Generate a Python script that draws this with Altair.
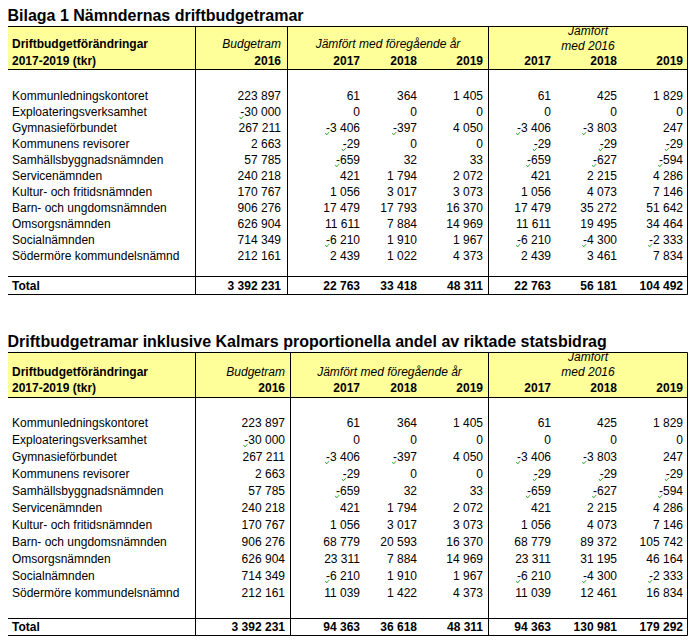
import altair as alt
import pandas as pd

# ---------------- data ----------------
categories = ["Kommunledningskontoret", "Exploateringsverksamhet", "Gymnasieförbundet",
              "Kommunens revisorer", "Samhällsbyggnadsnämnden", "Servicenämnden",
              "Kultur- och fritidsnämnden", "Barn- och ungdomsnämnden", "Omsorgsnämnden",
              "Socialnämnden", "Södermöre kommundelsnämnd"]
budget_2016 = [223897, -30000, 267211, 2663, 57785, 240218, 170767, 906276, 626904, 714349, 212161]
budget_2016_total = 3392231
year_labels = ["2017", "2018", "2019", "2017", "2018", "2019"]

# Table 1
t1_prev_2017 = [61, 0, -3406, -29, -659, 421, 1056, 17479, 11611, -6210, 2439]
t1_prev_2018 = [364, 0, -397, 0, 32, 1794, 3017, 17793, 7884, 1910, 1022]
t1_prev_2019 = [1405, 0, 4050, 0, 33, 2072, 3073, 16370, 14969, 1967, 4373]
t1_vs16_2017 = [61, 0, -3406, -29, -659, 421, 1056, 17479, 11611, -6210, 2439]
t1_vs16_2018 = [425, 0, -3803, -29, -627, 2215, 4073, 35272, 19495, -4300, 3461]
t1_vs16_2019 = [1829, 0, 247, -29, -594, 4286, 7146, 51642, 34464, -2333, 7834]
t1_totals = [22763, 33418, 48311, 22763, 56181, 104492]

# Table 2
t2_prev_2017 = [61, 0, -3406, -29, -659, 421, 1056, 68779, 23311, -6210, 11039]
t2_prev_2018 = [364, 0, -397, 0, 32, 1794, 3017, 20593, 7884, 1910, 1422]
t2_prev_2019 = [1405, 0, 4050, 0, 33, 2072, 3073, 16370, 14969, 1967, 4373]
t2_vs16_2017 = [61, 0, -3406, -29, -659, 421, 1056, 68779, 23311, -6210, 11039]
t2_vs16_2018 = [425, 0, -3803, -29, -627, 2215, 4073, 89372, 31195, -4300, 12461]
t2_vs16_2019 = [1829, 0, 247, -29, -594, 4286, 7146, 105742, 46164, -2333, 16834]
t2_totals = [94363, 36618, 48311, 94363, 130981, 179292]

title1 = "Bilaga 1 Nämndernas driftbudgetramar"
title2 = "Driftbudgetramar inklusive Kalmars proportionella andel av riktade statsbidrag"

# ---------------- layout ----------------
LEFT, RIGHT = 7.5, 687.5
LABEL_X = 12
VALUE_RIGHT = [360, 417, 483, 551, 617, 683]
FONT = "Liberation Sans"

tables = [
    dict(title=title1, title_base=21, top=26.5, hdr=69.5, jam=(31, 45.5), lines=(44, 61),
         row0=95.5, pitch=16, tsep=276.5, trow=286, bottom=294.5,
         vcols=[195.5, 287.5, 488.5], budget_right=281,
         cols=[t1_prev_2017, t1_prev_2018, t1_prev_2019, t1_vs16_2017, t1_vs16_2018, t1_vs16_2019],
         totals=t1_totals),
    dict(title=title2, title_base=347, top=352.5, hdr=397.5, jam=(357, 371.5), lines=(372, 388),
         row0=422.5, pitch=17, tsep=618.5, trow=627, bottom=635.5,
         vcols=[195.5, 290.5, 488.5], budget_right=285,
         cols=[t2_prev_2017, t2_prev_2018, t2_prev_2019, t2_vs16_2017, t2_vs16_2018, t2_vs16_2019],
         totals=t2_totals),
]


def fmt(v):
    return f"{v:,}".replace(",", " ")


def text_width(s):
    w = 0.0
    for ch in s:
        if ch.isdigit():
            w += 6.674
        elif ch == " ":
            w += 3.336
        elif ch == "-":
            w += 3.996
    return w


texts, rules, rects, ticks = [], [], [], []
for T in tables:
    texts.append(dict(x=LEFT, y=T["title_base"], text=T["title"], kind="title"))
    rects.append(dict(x=LEFT, x2=RIGHT, y=T["top"], y2=T["hdr"]))
    # borders
    for yy in (T["top"], T["hdr"], T["tsep"], T["bottom"]):
        rules.append(dict(x=LEFT, x2=RIGHT, y=yy, y2=yy))
    for xx in [LEFT] + T["vcols"] + [RIGHT]:
        rules.append(dict(x=xx, x2=xx, y=T["top"], y2=T["bottom"]))
    l2, l3 = T["lines"]
    j1, j2 = T["jam"]
    mid1 = (T["vcols"][1] + T["vcols"][2]) / 2
    mid2 = (T["vcols"][2] + RIGHT) / 2
    texts += [
        dict(x=LABEL_X, y=l2, text="Driftbudgetförändringar", kind="lbold"),
        dict(x=LABEL_X, y=l3, text="2017-2019 (tkr)", kind="lbold"),
        dict(x=T["budget_right"], y=l2, text="Budgetram", kind="ritalic"),
        dict(x=T["budget_right"], y=l3, text="2016", kind="rbold"),
        dict(x=mid1, y=l2, text="Jämfört med föregående år", kind="citalic"),
        dict(x=mid2, y=j1, text="Jämfört", kind="citalic"),
        dict(x=mid2, y=j2, text="med 2016", kind="citalic"),
    ]
    for j, yl in enumerate(year_labels):
        texts.append(dict(x=VALUE_RIGHT[j], y=l3, text=yl, kind="rbold"))
    for i, cat in enumerate(categories):
        yy = T["row0"] + i * T["pitch"]
        texts.append(dict(x=LABEL_X, y=yy, text=cat, kind="lreg"))
        row_vals = [(T["budget_right"], budget_2016[i])] + \
                   [(VALUE_RIGHT[j], T["cols"][j][i]) for j in range(6)]
        for xr, v in row_vals:
            s = fmt(v)
            texts.append(dict(x=xr, y=yy, text=s, kind="rreg"))
            if v < 0:
                ticks.append(dict(x=xr - text_width(s) + 1.2, y=yy + 6.5))
    texts.append(dict(x=LABEL_X, y=T["trow"], text="Total", kind="lbold"))
    texts.append(dict(x=T["budget_right"], y=T["trow"], text=fmt(budget_2016_total), kind="rbold"))
    for j, v in enumerate(T["totals"]):
        texts.append(dict(x=VALUE_RIGHT[j], y=T["trow"], text=fmt(v), kind="rbold"))

text_df = pd.DataFrame(texts)
rule_df = pd.DataFrame(rules)
rect_df = pd.DataFrame(rects)
tick_df = pd.DataFrame(ticks)

xs = alt.Scale(domain=[8, 690], range=[0, 682], nice=False, zero=False)
ys = alt.Scale(domain=[8, 636], range=[0, 628], nice=False, zero=False)

X = alt.X("x:Q", scale=xs, axis=None)
Y = alt.Y("y:Q", scale=ys, axis=None)

rect_layer = alt.Chart(rect_df).mark_rect(color="#FFFF99", opacity=1).encode(
    x=X, x2="x2:Q", y=Y, y2="y2:Q")
rule_layer = alt.Chart(rule_df).mark_rule(color="black", strokeWidth=1).encode(
    x=X, x2="x2:Q", y=Y, y2="y2:Q")
tick_layer = alt.Chart(tick_df).mark_point(
    shape="M-1,-0.6L-0.3,0.5L1,-1", filled=False, color="#3aa63a",
    size=14, strokeWidth=1, opacity=1).encode(x=X, y=Y)


def text_layer(kind, **kw):
    base = dict(font=FONT, fontSize=12, color="black", baseline="middle")
    base.update(kw)
    return alt.Chart(text_df).transform_filter(
        alt.datum.kind == kind).mark_text(**base).encode(x=X, y=Y, text="text:N")


layers = [
    rect_layer, rule_layer, tick_layer,
    text_layer("title", align="left", baseline="alphabetic", fontSize=16, fontWeight="bold"),
    text_layer("lreg", align="left"),
    text_layer("lbold", align="left", fontWeight="bold"),
    text_layer("rreg", align="right"),
    text_layer("rbold", align="right", fontWeight="bold"),
    text_layer("ritalic", align="right", fontStyle="italic"),
    text_layer("citalic", align="center", fontStyle="italic"),
]

chart = alt.layer(*layers).properties(
    width=682, height=628, padding=0,
    autosize=alt.AutoSizeParams(type="none"),
).configure_view(stroke=None)

chart.save("out.html", embed_options={"renderer": "svg", "actions": False})
